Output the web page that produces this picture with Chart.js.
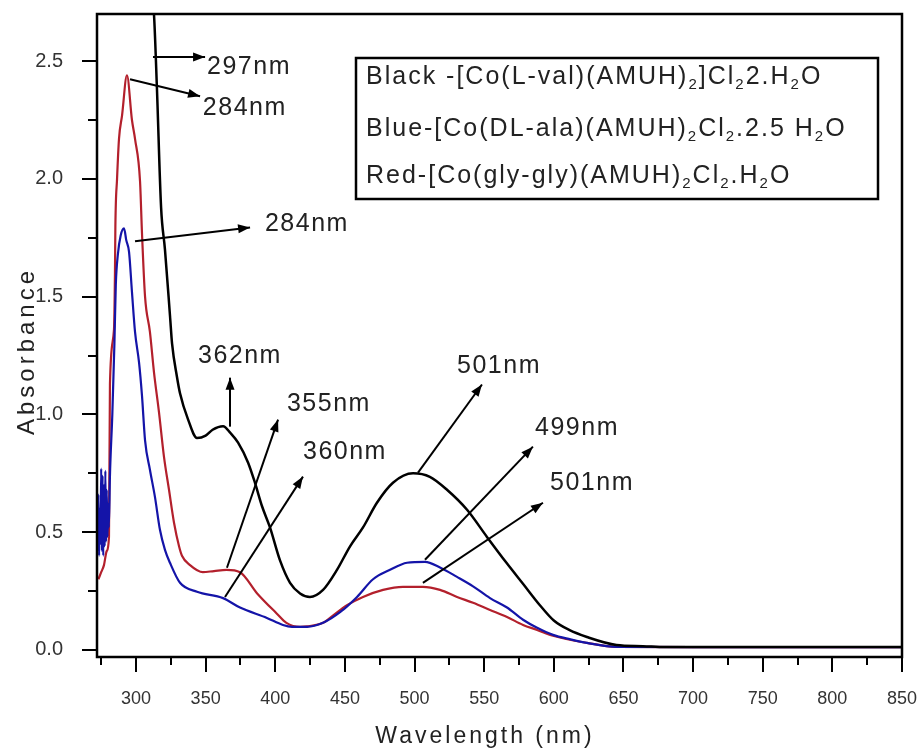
<!DOCTYPE html>
<html>
<head>
<meta charset="utf-8">
<script src="https://cdn.jsdelivr.net/npm/chart.js@4.4.1/dist/chart.umd.min.js"></script>
<style>
  html, body { margin: 0; padding: 0; background: #fff; }
</style>
</head>
<body>
<canvas id="myChart" width="920" height="752"></canvas>
<script>
// wavelength (nm) / absorbance
const blackNm  = [297, 305, 312.9, 315, 318, 320.8, 324.4, 325.9, 329.4, 331.6, 337.3, 343.8, 350, 355, 362.5, 368, 373.3, 380.5, 385.4, 390.5, 396.2, 403.4, 410.6, 417.8, 424.9, 434.3, 444.3, 453.7, 463, 473, 484.5, 498.9, 511, 523.3, 537.7, 552, 566, 578, 590, 600, 611, 623.8, 645, 664, 680, 850];
const blackAbs = [3.4, 3.1, 2.70, 2.39, 1.88, 1.70, 1.42, 1.30, 1.16, 1.09, 0.98, 0.90, 0.91, 0.935, 0.95, 0.92, 0.88, 0.795, 0.71, 0.61, 0.52, 0.38, 0.285, 0.24, 0.225, 0.255, 0.34, 0.44, 0.52, 0.625, 0.71, 0.75, 0.735, 0.68, 0.595, 0.48, 0.37, 0.28, 0.19, 0.125, 0.085, 0.055, 0.021, 0.016, 0.012, 0.012];

const blueNm  = [272.5, 273, 273.5, 274, 274.5, 275, 275.5, 276, 276.5, 277, 277.5, 278, 278.5, 279, 279.5, 280, 280.5, 281.3, 283, 284.5, 285.5, 287, 289, 291.4, 293, 295, 297.1, 299.3, 302.2, 304.3, 306.5, 310, 313.6, 317.2, 320.8, 324.4, 331.6, 343.8, 362.5, 374.7, 394, 405.5, 412, 422.8, 434.3, 446.5, 458.7, 470.2, 482.4, 494.6, 507.5, 518.3, 530.5, 542, 554.2, 566.4, 577.9, 588, 599.4, 612, 623.8, 645, 700, 850];
const blueAbs = [0.42, 0.66, 0.40, 0.60, 0.45, 0.77, 0.42, 0.74, 0.40, 0.70, 0.44, 0.76, 0.46, 0.68, 0.48, 0.62, 0.52, 0.74, 1.0, 1.3, 1.55, 1.68, 1.76, 1.79, 1.74, 1.69, 1.52, 1.35, 1.22, 1.08, 0.89, 0.765, 0.65, 0.51, 0.425, 0.37, 0.285, 0.247, 0.22, 0.18, 0.136, 0.106, 0.098, 0.098, 0.115, 0.16, 0.225, 0.30, 0.34, 0.37, 0.374, 0.35, 0.31, 0.27, 0.22, 0.18, 0.128, 0.094, 0.064, 0.045, 0.03, 0.013, 0.012, 0.012];

const redNm  = [273, 275, 277, 279, 280.6, 281.3, 284.2, 284.9, 285.2, 286.4, 287.8, 290, 293.5, 297.1, 299.3, 302.9, 304.3, 306.5, 310, 312.9, 316.5, 320.1, 323.7, 327.3, 330.9, 333, 338.8, 348, 356, 365, 374.7, 387, 401, 408, 417.8, 422.8, 434.3, 439.3, 451.5, 463, 477.4, 491.7, 506, 518.3, 530.5, 542, 554.2, 566.4, 577.9, 588, 599.4, 623.8, 645, 700, 850];
const redAbs = [0.30, 0.33, 0.36, 0.42, 0.48, 1.13, 1.36, 1.60, 1.80, 2.00, 2.17, 2.27, 2.44, 2.25, 2.17, 1.99, 1.77, 1.50, 1.35, 1.18, 1.01, 0.82, 0.68, 0.54, 0.44, 0.40, 0.36, 0.33, 0.335, 0.34, 0.33, 0.24, 0.155, 0.115, 0.098, 0.10, 0.115, 0.136, 0.19, 0.225, 0.255, 0.268, 0.268, 0.255, 0.225, 0.20, 0.17, 0.14, 0.106, 0.085, 0.06, 0.03, 0.013, 0.012, 0.012];

const legendLabels = [
  "Black -[Co(L-val)(AMUH)_2]Cl_22.H_2O",
  "Blue-[Co(DL-ala)(AMUH)_2Cl_2.2.5 H_2O",
  "Red-[Co(gly-gly)(AMUH)_2Cl_2.H_2O"
];
const lineColors = ["#000000", "#1414a8", "#b3202c"];

const xTickValues = [275, 300, 325, 350, 375, 400, 425, 450, 475, 500, 525, 550, 575, 600, 625, 650, 675, 700, 725, 750, 775, 800, 825, 850];
const xTickLabels = ["", "300", "", "350", "", "400", "", "450", "", "500", "", "550", "", "600", "", "650", "", "700", "", "750", "", "800", "", "850"];
const yTickValues = [0, 0.25, 0.5, 0.75, 1.0, 1.25, 1.5, 1.75, 2.0, 2.25, 2.5];
const yTickLabels = ["0.0", "", "0.5", "", "1.0", "", "1.5", "", "2.0", "", "2.5"];

// peak annotations: arrow start (on curve), arrow end, text anchor (left, middle)
const peakText = ["297nm", "284nm", "284nm", "362nm", "355nm", "360nm", "501nm", "499nm", "501nm"];
const arrowFrom = [[312.2, 2.517], [295.7, 2.423], [299.3, 1.735], [367.5, 0.948], [365.3, 0.349], [363.9, 0.225], [502.5, 0.753], [507.5, 0.383], [506, 0.285]];
const arrowTo   = [[349.6, 2.517], [346, 2.351], [381.9, 1.794], [367.5, 1.156], [402, 0.978], [419.9, 0.736], [548.4, 1.127], [585, 0.863], [592.2, 0.625]];
const textAt    = [[351, 2.475], [348, 2.30], [392.6, 1.81], [344.5, 1.246], [408.4, 1.042], [419.9, 0.842], [530.5, 1.203], [586.5, 0.94], [597.3, 0.71]];

const toPoints = (xs, ys) => xs.map((v, i) => ({ x: v, y: ys[i] }));

function drawRich(ctx, str, x, y, size) {
  let cx = x;
  for (let i = 0; i < str.length; i++) {
    let ch = str[i];
    if (ch === "_" && i + 1 < str.length) {
      ch = str[++i];
      ctx.font = Math.round(size * 0.6) + "px 'Liberation Sans', Arial, sans-serif";
      ctx.fillText(ch, cx, y + size * 0.32);
      cx += ctx.measureText(ch).width;
    } else {
      ctx.font = size + "px 'Liberation Sans', Arial, sans-serif";
      ctx.fillText(ch, cx, y);
      cx += ctx.measureText(ch).width;
    }
  }
}

function arrow(ctx, x1, y1, x2, y2) {
  ctx.beginPath();
  ctx.moveTo(x1, y1);
  ctx.lineTo(x2, y2);
  ctx.stroke();
  const ang = Math.atan2(y2 - y1, x2 - x1);
  const len = 12, half = 4.5;
  ctx.beginPath();
  ctx.moveTo(x2, y2);
  ctx.lineTo(x2 - len * Math.cos(ang) + half * Math.sin(ang), y2 - len * Math.sin(ang) - half * Math.cos(ang));
  ctx.lineTo(x2 - len * Math.cos(ang) - half * Math.sin(ang), y2 - len * Math.sin(ang) + half * Math.cos(ang));
  ctx.closePath();
  ctx.fill();
}

const extras = {
  id: "extras",
  afterDraw(chart) {
    const { ctx, chartArea: a, scales: { x, y } } = chart;
    ctx.save();
    ctx.strokeStyle = "#000";
    ctx.fillStyle = "#000";

    // tick marks, long for labelled ones
    ctx.lineWidth = 2;
    ctx.beginPath();
    xTickValues.forEach((v, i) => {
      const px = Math.round(x.getPixelForValue(v));
      ctx.moveTo(px, a.bottom);
      ctx.lineTo(px, a.bottom + (xTickLabels[i] ? 15 : 8));
    });
    yTickValues.forEach((v, i) => {
      const py = Math.round(y.getPixelForValue(v));
      ctx.moveTo(a.left, py);
      ctx.lineTo(a.left - (yTickLabels[i] ? 15 : 9), py);
    });
    ctx.stroke();

    // frame
    ctx.lineWidth = 2.5;
    ctx.strokeRect(a.left, a.top, a.right - a.left, a.bottom - a.top);

    // peak arrows and labels
    ctx.lineWidth = 2;
    peakText.forEach((t, i) => {
      arrow(ctx,
        x.getPixelForValue(arrowFrom[i][0]), y.getPixelForValue(arrowFrom[i][1]),
        x.getPixelForValue(arrowTo[i][0]), y.getPixelForValue(arrowTo[i][1]));
    });
    ctx.fillStyle = "#222";
    ctx.font = "25px 'Liberation Sans', Arial, sans-serif";
    ctx.letterSpacing = "1.5px";
    ctx.textBaseline = "middle";
    ctx.textAlign = "left";
    peakText.forEach((t, i) => {
      ctx.fillText(t, x.getPixelForValue(textAt[i][0]), y.getPixelForValue(textAt[i][1]));
    });

    // legend box
    ctx.strokeStyle = "#000";
    ctx.lineWidth = 2.5;
    ctx.strokeRect(356, 58, 522, 141);
    ctx.letterSpacing = "2px";
    ctx.fillStyle = "#222";
    const rows = [77, 129, 176];
    chart.data.datasets.forEach((ds, i) => {
      drawRich(ctx, ds.label, 366, rows[i], 25);
    });

    // axis titles
    ctx.letterSpacing = "3px";
    ctx.font = "23px 'Liberation Sans', Arial, sans-serif";
    ctx.textAlign = "center";
    ctx.fillText("Wavelength (nm)", 485, 737);
    ctx.save();
    ctx.translate(27, 351);
    ctx.rotate(-Math.PI / 2);
    ctx.letterSpacing = "4px";
    ctx.font = "24px 'Liberation Sans', Arial, sans-serif";
    ctx.fillText("Absorbance", 0, 0);
    ctx.restore();

    ctx.restore();
  }
};

const ctx = document.getElementById("myChart");

const data = {
  datasets: [
    { label: legendLabels[0], data: toPoints(blackNm, blackAbs), borderColor: lineColors[0], borderWidth: 2.5 },
    { label: legendLabels[1], data: toPoints(blueNm, blueAbs), borderColor: lineColors[1], borderWidth: 2.2 },
    { label: legendLabels[2], data: toPoints(redNm, redAbs), borderColor: lineColors[2], borderWidth: 2.2 },
  ],
};

const config = {
  type: "line",
  data,
  options: {
    responsive: false,
    animation: false,
    devicePixelRatio: 1,
    layout: { padding: { top: 14, right: 18, left: 0, bottom: 0 } },
    elements: {
      point: { radius: 0 },
      line: { tension: 0, cubicInterpolationMode: "monotone", fill: false },
    },
    plugins: { legend: { display: false }, tooltip: { enabled: false } },
    scales: {
      x: {
        type: "linear",
        min: 272,
        max: 850,
        grid: { display: false },
        border: { display: false },
        afterFit: (s) => { s.height = 95; s.paddingLeft = 0; s.paddingRight = 0; },
        afterBuildTicks: (s) => { s.ticks = xTickValues.map((v) => ({ value: v })); },
        ticks: {
          autoSkip: false,
          maxRotation: 0,
          padding: 23,
          color: "#333",
          font: { family: "'Liberation Sans', Arial, sans-serif", size: 18 },
          callback: (v) => xTickLabels[xTickValues.indexOf(v)],
        },
      },
      y: {
        min: -0.03,
        max: 2.7,
        grid: { display: false },
        border: { display: false },
        afterFit: (s) => { s.width = 97; s.paddingTop = 0; s.paddingBottom = 0; },
        afterBuildTicks: (s) => { s.ticks = yTickValues.map((v) => ({ value: v })); },
        ticks: {
          autoSkip: false,
          padding: 26,
          color: "#333",
          font: { family: "'Liberation Sans', Arial, sans-serif", size: 20 },
          callback: (v) => yTickLabels[yTickValues.indexOf(v)],
        },
      },
    },
  },
  plugins: [extras],
};

let myChart = new Chart(ctx, config);
</script>
</body>
</html>
